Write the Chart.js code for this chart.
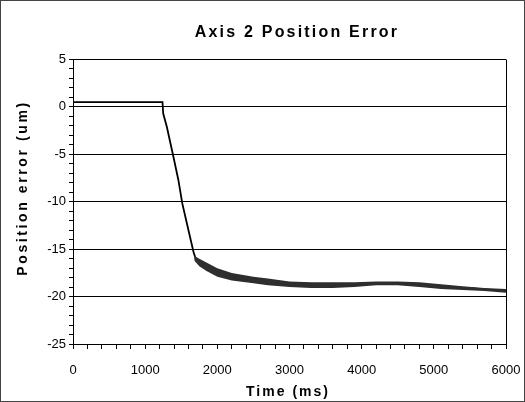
<!DOCTYPE html>
<html>
<head>
<meta charset="utf-8">
<script src="https://cdn.jsdelivr.net/npm/chart.js@4/dist/chart.umd.min.js"></script>
<style>
  body { margin: 0; background: #fff; }
  #frame { width: 523px; height: 400px; border: 1px solid #444; }
</style>
</head>
<body>
<div id="frame"><canvas id="error-chart" width="523" height="400"></canvas></div>
<script>
const chartTitle = "Axis 2 Position Error";
const xTitle = "Time (ms)";
const yTitle = "Position error (um)";

// main trace
const times = [0, 1240, 1250, 1300, 1390, 1460, 1515, 1600, 1670, 1700, 1800, 2000, 2200, 2500, 2700, 3000, 3300, 3600, 3900, 4200, 4500, 5000, 5200, 5500, 5800, 6000];
const errorUm = [0.5, 0.5, -0.7, -2.1, -5.2, -7.7, -10.2, -13.0, -15.3, -16.0, -16.5, -17.4, -17.9, -18.2, -18.4, -18.7, -18.8, -18.8, -18.7, -18.6, -18.6, -18.8, -19.0, -19.1, -19.3, -19.4];

// upper / lower edge of the noisy band after the drop
const bandTimes = [1680, 1750, 1850, 2000, 2200, 2500, 2700, 3000, 3300, 3600, 3900, 4200, 4500, 4800, 5100, 5400, 5700, 6000];
const bandHigh = [-15.7, -16.0, -16.4, -17.0, -17.5, -17.9, -18.1, -18.4, -18.5, -18.5, -18.5, -18.4, -18.4, -18.5, -18.7, -18.9, -19.1, -19.2];
const bandLow = [-16.2, -16.8, -17.3, -17.9, -18.3, -18.6, -18.8, -19.0, -19.1, -19.1, -19.0, -18.8, -18.8, -19.0, -19.2, -19.3, -19.4, -19.6];

const font = '"Liberation Sans", Arial, sans-serif';

const spacedText = {
    id: "spacedText",
    afterDraw(chart) {
        const ctx = chart.ctx;
        ctx.save();
        ctx.fillStyle = "#000";
        ctx.textAlign = "center";
        ctx.textBaseline = "alphabetic";

        ctx.font = "bold 16px " + font;
        ctx.letterSpacing = "2.2px";
        ctx.fillText(chartTitle, 296, 36);

        ctx.font = "bold 14px " + font;
        ctx.letterSpacing = "2px";
        ctx.fillText(xTitle, 287, 395);

        ctx.translate(26, 187);
        ctx.rotate(-Math.PI / 2);
        ctx.letterSpacing = "2.6px";
        ctx.fillText(yTitle, 0, 0);
        ctx.restore();
    }
};

const canvas = document.querySelector("#error-chart");

new Chart(canvas, {
    type: "line",
    data: {
        datasets: [
            {
                label: "band high",
                data: bandTimes.map((t, i) => ({ x: t, y: bandHigh[i] })),
                borderWidth: 0,
                pointRadius: 0,
                backgroundColor: "#2e2e2e",
                fill: "+1"
            },
            {
                label: "band low",
                data: bandTimes.map((t, i) => ({ x: t, y: bandLow[i] })),
                borderWidth: 0,
                pointRadius: 0,
                fill: false
            },
            {
                label: "Position error",
                data: times.map((t, i) => ({ x: t, y: errorUm[i] })),
                borderColor: "#000",
                borderWidth: 1.8,
                pointRadius: 0,
                fill: false
            }
        ]
    },
    options: {
        responsive: false,
        animation: false,
        devicePixelRatio: 1,
        layout: { padding: { top: 58.5, right: 0, bottom: 0, left: 0 } },
        plugins: {
            legend: { display: false },
            title: { display: false },
            tooltip: { enabled: false }
        },
        scales: {
            x: {
                type: "linear",
                min: 0,
                max: 6000,
                afterFit: (s) => {
                    s.height = 57;
                    s.paddingLeft = 0;
                    s.paddingRight = 18;
                },
                border: { display: true, color: "#000", width: 1 },
                grid: {
                    color: (c) => (c.tick && c.tick.value === 6000 ? "#000" : "rgba(0,0,0,0)"),
                    tickColor: "#000",
                    tickLength: 5
                },
                ticks: {
                    stepSize: 200,
                    autoSkip: false,
                    maxRotation: 0,
                    padding: 14,
                    color: "#000",
                    font: { family: font, size: 13 },
                    callback: (v) => (v % 1000 === 0 ? v : "")
                }
            },
            y: {
                min: -25,
                max: 5,
                afterFit: (s) => { s.width = 72; },
                border: { display: true, color: "#000", width: 1 },
                grid: {
                    color: (c) => (c.tick && c.tick.value % 5 === 0 ? "#000" : "rgba(0,0,0,0)"),
                    tickColor: "#000",
                    tickLength: 4
                },
                ticks: {
                    stepSize: 1,
                    autoSkip: false,
                    padding: 3,
                    color: "#000",
                    font: { family: font, size: 13 },
                    callback: (v) => (v % 5 === 0 ? v : "")
                }
            }
        }
    },
    plugins: [spacedText]
});
</script>
</body>
</html>
